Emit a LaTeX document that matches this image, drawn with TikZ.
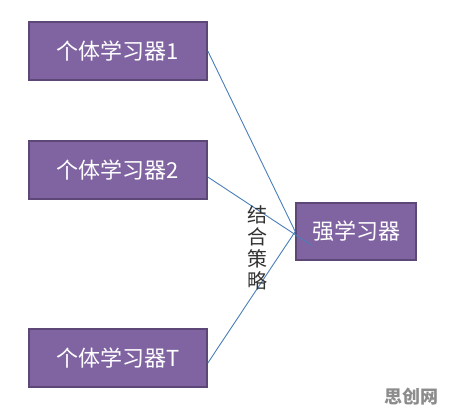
\documentclass[tikz,border=0pt]{standalone}
\usepackage{fontspec}
\newfontfamily\cjk{Noto Sans CJK SC}
\begin{document}
\begin{tikzpicture}[x=1bp,y=-1bp,
  learner/.style={draw=boxedge,fill=boxfill,line width=1.6bp,minimum width=178bp,minimum height=58bp,
    text=white,font=\cjk\fontsize{22bp}{24bp}\selectfont,inner sep=0pt},
  link/.style={draw=linkblue,line width=0.9bp}]
\definecolor{boxfill}{HTML}{8064A2}
\definecolor{boxedge}{HTML}{5C4776}
\definecolor{linkblue}{HTML}{4A7EBB}
\useasboundingbox (0,0) rectangle (451,417);
\node[learner] (b1) at (118,51) {个体学习器1};
\node[learner] (b2) at (118,170) {个体学习器2};
\node[learner] (bT) at (118,358) {个体学习器T};
\node[learner,minimum width=120bp,minimum height=57bp] (s) at (356,231.5) {强学习器};
\coordinate (over) at (311,245);
\draw[link] (b1.east) -- (s.west);
\draw[link] ([yshift=-7bp]b2.east) -- (over);
\draw[link] ([yshift=-5bp]bT.east) -- (s.west);
\node[font=\cjk\fontsize{20bp}{22bp}\selectfont,align=center,inner sep=0pt,text=black!80] (strat) at (257,248) {结\\合\\策\\略};
\node[font=\cjk\bfseries\fontsize{18bp}{20bp}\selectfont,text=black!45,inner sep=0pt] (wm) at (411,397) {思创网};
\end{tikzpicture}
\end{document}
